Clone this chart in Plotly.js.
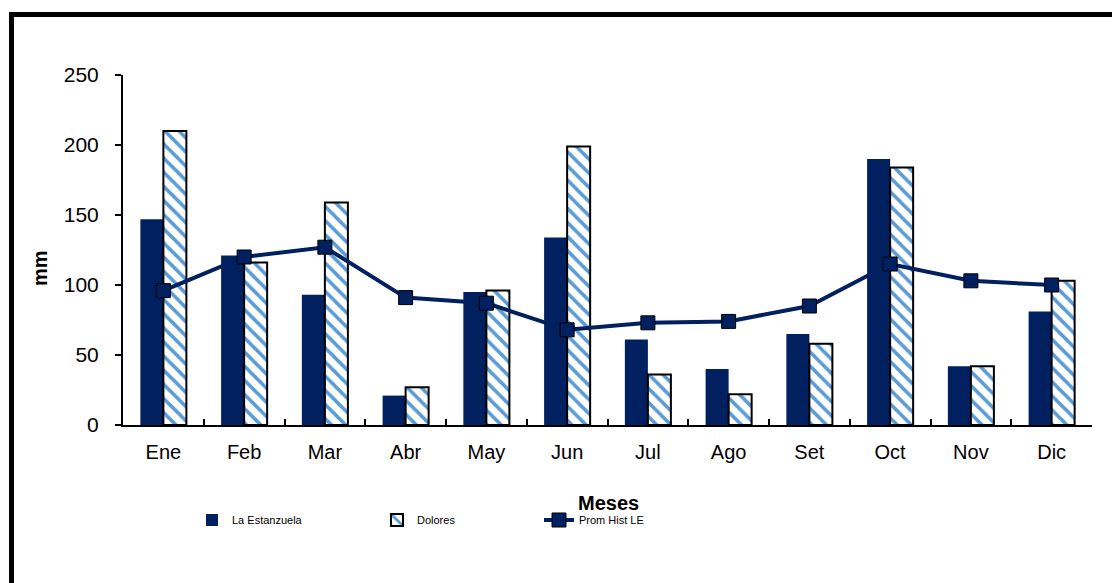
<!DOCTYPE html>
<html>
<head>
<meta charset="utf-8">
<script src="https://cdn.plot.ly/plotly-3.0.1.min.js"></script>
<style>html,body{margin:0;padding:0;background:#fff;}#chart{width:1112px;height:583px;}</style>
</head>
<body>
<div id="chart"></div>
<script>
const months = ['Ene','Feb','Mar','Abr','May','Jun','Jul','Ago','Set','Oct','Nov','Dic'];
const laEstanzuela = [147, 121, 93, 21, 95, 134, 61, 40, 65, 190, 42, 81];
const dolores = [210, 116, 159, 27, 96, 199, 36, 22, 58, 184, 42, 103];
const promHistLE = [96, 120, 127, 91, 87, 68, 73, 74, 85, 115, 103, 100];
const yTicks = [0, 50, 100, 150, 200, 250];

const navy = '#002060';
const stripe = '#5B9BD5';
const W = 1112, H = 583;
const mL = 123, mR = 20, mT = 75, mB = 158;
const pw = W - mL - mR, ph = H - mT - mB;
const px = v => (v - mL) / pw;
const py = v => (H - mB - v) / ph;

const legendFont = {family: '"Liberation Sans Narrow", "Arial Narrow", "Liberation Sans", Arial, sans-serif', size: 11, color: '#000'};

const traces = [
  {type: 'bar', name: 'La Estanzuela', x: months, y: laEstanzuela,
   marker: {color: navy, line: {width: 0}}, legend: 'legend'},
  {type: 'bar', name: 'Dolores', x: months, y: dolores,
   marker: {color: '#ffffff', line: {color: '#000', width: 2},
            pattern: {shape: '\\', fgcolor: stripe, bgcolor: '#ffffff', size: 10, solidity: 0.35, fillmode: 'replace'}},
   legend: 'legend2'},
  {type: 'scatter', mode: 'lines+markers', name: 'Prom Hist LE', x: months, y: promHistLE,
   line: {color: navy, width: 4},
   marker: {symbol: 'square', size: 14, color: navy, line: {color: '#000', width: 1}},
   legend: 'legend3'}
];

function lg(xPix) {
  return {x: px(xPix), xanchor: 'left', y: py(520), yanchor: 'middle', orientation: 'h',
          font: legendFont, bgcolor: 'rgba(0,0,0,0)', borderwidth: 0};
}

const layout = {
  width: W, height: H,
  margin: {l: mL, r: mR, t: mT, b: mB},
  paper_bgcolor: '#fff', plot_bgcolor: '#fff',
  font: {family: '"Liberation Sans", Arial, sans-serif', color: '#000'},
  barmode: 'group', bargap: 0.43, bargroupgap: 0,
  showlegend: true,
  legend: lg(192), legend2: lg(377), legend3: lg(539),
  xaxis: {type: 'category', range: [-0.5, 11.5], autorange: false,
          showline: true, linecolor: '#000', linewidth: 2,
          ticks: 'inside', tickson: 'boundaries', ticklen: 6, tickwidth: 2, tickcolor: '#000',
          showgrid: false, zeroline: false, tickfont: {size: 20, color: '#000'}, ticklabelstandoff: 8,
          fixedrange: true},
  yaxis: {range: [0, 250], autorange: false, tickvals: yTicks, ticktext: yTicks.map(String),
          showline: true, linecolor: '#000', linewidth: 2,
          ticks: 'outside', ticklen: 6, tickwidth: 2, tickcolor: '#000',
          showgrid: false, zeroline: false, tickfont: {size: 21, color: '#000'}, ticklabelstandoff: 12},
  annotations: [
    {text: '<b>mm</b>', xref: 'paper', yref: 'paper', x: px(40), y: py(268), xanchor: 'center', yanchor: 'middle',
     textangle: -90, showarrow: false, font: {size: 20, color: '#000'}},
    {text: '<b>Meses</b>', xref: 'paper', yref: 'paper', x: px(608), y: py(503), xanchor: 'center', yanchor: 'middle',
     showarrow: false, font: {size: 20, color: '#000'}}
  ],
  shapes: [
    {type: 'rect', xref: 'paper', yref: 'paper', x0: px(11.5), x1: px(1130), y0: py(620), y1: py(14.5),
     line: {color: '#000', width: 5}, fillcolor: 'rgba(0,0,0,0)', layer: 'below'}
  ]
};

Plotly.newPlot('chart', traces, layout, {displayModeBar: false, staticPlot: true});
</script>
</body>
</html>
